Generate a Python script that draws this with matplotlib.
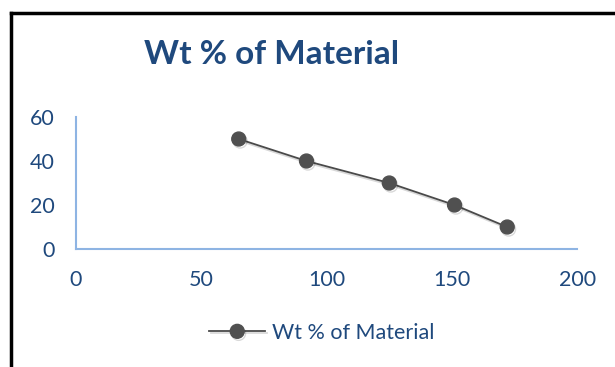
import matplotlib.pyplot as plt
from matplotlib.lines import Line2D
import matplotlib.patheffects as pe

# data
x_vals = [65, 92, 125, 151, 172]
wt_pct = [50, 40, 30, 20, 10]
series_name = 'Wt % of Material'
x_ticks = [0, 50, 100, 150, 200]
y_ticks = [0, 20, 40, 60]

plt.rcParams['font.family'] = ['Lato', 'DejaVu Sans']
blue = '#1F497D'

fig = plt.figure(figsize=(6.15, 3.67), dpi=100)
ax = fig.add_axes([0.123, 0.3215, 0.816, 0.3597])

ax.plot(x_vals, wt_pct, color='#4A4A4A', lw=1.3, marker='o', markersize=10,
        markerfacecolor='#505050', markeredgecolor='#505050', label=series_name,
        path_effects=[pe.SimpleLineShadow(offset=(1, -1.5), alpha=0.15), pe.Normal()])

ax.set_xlim(0, 200)
ax.set_ylim(0, 60)
ax.set_xticks(x_ticks)
ax.set_yticks(y_ticks)
ax.tick_params(length=0, labelsize=15.5, labelcolor=blue)
ax.tick_params(axis='y', pad=15)
ax.tick_params(axis='x', pad=15)
for s in ['top', 'right']:
    ax.spines[s].set_visible(False)
for s in ['left', 'bottom']:
    ax.spines[s].set_color('#8EB4E3')
    ax.spines[s].set_linewidth(1.5)

fig.text(0.441, 0.852, series_name, ha='center', va='center', fontsize=24,
         fontweight='bold', color=blue)

leg = fig.legend(loc='center', bbox_to_anchor=(0.523, 0.093), frameon=False,
                 fontsize=15.5, handlelength=2.6, handletextpad=0.3)
for t in leg.get_texts():
    t.set_color(blue)

# border (top and left edges visible)
fig.add_artist(Line2D([10.5 / 615, 10.5 / 615], [0, 1 - 13 / 367], color='black', lw=2.5,
                      transform=fig.transFigure))
fig.add_artist(Line2D([10.5 / 615, 1], [1 - 13 / 367, 1 - 13 / 367], color='black', lw=2.5,
                      transform=fig.transFigure))

fig.savefig('out.png', dpi=100)
